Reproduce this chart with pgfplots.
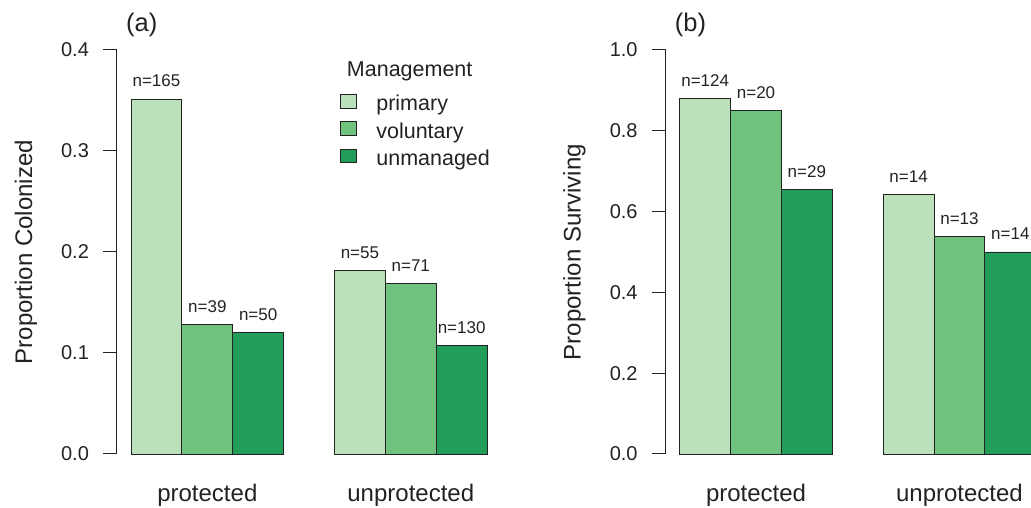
\documentclass[border=0pt]{standalone}
\usepackage{fontspec}
\setmainfont{Liberation Sans}
\usepackage{pgfplots}
\pgfplotsset{compat=1.18}
\usepackage{pgfplotstable}

\definecolor{cPrim}{HTML}{BBE1BB}
\definecolor{cVol}{HTML}{71C27E}
\definecolor{cUnm}{HTML}{239E5A}
\definecolor{ink}{HTML}{222222}

% Panel (a): proportion colonized
\pgfplotstableread{
x y n
1.5 0.3515 165
5.5 0.1818 55
}\aPrim
\pgfplotstableread{
x y n
2.5 0.1282 39
6.5 0.1690 71
}\aVol
\pgfplotstableread{
x y n
3.5 0.1200 50
7.5 0.1077 130
}\aUnm
% Panel (b): proportion surviving
\pgfplotstableread{
x y n
1.5 0.8790 124
5.5 0.6430 14
}\bPrim
\pgfplotstableread{
x y n
2.5 0.8500 20
6.5 0.5380 13
}\bVol
\pgfplotstableread{
x y n
3.5 0.6550 29
7.5 0.5000 14
}\bUnm

\pgfplotsset{
  sqlegend/.style={legend image code/.code={%
      \draw[##1, line width=0.9pt] (0pt,0.2pt) rectangle (16pt,13.5pt);
      \path[draw=none, fill=none] (0pt,0pt) rectangle (36.4pt,0.1pt);}},
  barstyle/.style={ybar, bar width=1, bar shift=0, draw=ink, line width=0.9pt, fill=#1,
    point meta=explicit symbolic,
    nodes near coords={n=\pgfplotspointmeta},
    nodes near coords style={anchor=center, yshift=18pt, inner sep=0pt,
      text=ink, font=\fontsize{17}{20}\selectfont},
    sqlegend},
  panel/.style={
    scale only axis, width=384.5pt, height=404pt,
    xmin=0.72, xmax=8.28, ymin=0,
    clip=false,
    axis y line*=left, axis x line*=bottom,
    x axis line style={draw=none},
    y axis line style={draw=ink, line width=1pt},
    xtick={2.5,6.5}, xticklabels={protected,unprotected},
    xtick style={draw=none},
    ytick style={draw=ink, line width=1pt},
    tick align=outside, major tick length=13.4pt,
    /pgf/number format/assume math mode=true,
    yticklabel={\pgfmathprintnumber[fixed,fixed zerofill,precision=1]{\tick}},
    yticklabel style={anchor=east, inner sep=0pt, xshift=-14.3pt, text=ink,
      font=\fontsize{20}{24}\selectfont},
    xticklabel style={anchor=base, inner sep=0pt, yshift=-34.5pt, text=ink,
      font=\fontsize{24}{28}\selectfont},
    ylabel style={at={(axis description cs:-0.2205,0.5)}, anchor=base, inner sep=0pt,
      text=ink, font=\fontsize{24}{28}\selectfont},
    title style={at={(axis description cs:0.024,1.0453)}, anchor=base west, inner sep=0pt,
      yshift=-6pt, text=ink, font=\fontsize{25.5}{30}\selectfont},
  },
}

\begin{document}
\begin{tikzpicture}[x=1pt,y=1pt]
\begin{axis}[panel, at={(116.8pt,54pt)}, anchor=south west,
    ymax=0.4, ytick={0,0.1,0.2,0.3,0.4},
    title={(a)}, ylabel={Proportion Colonized},
    legend cell align=left,
    legend style={at={(axis description cs:0.5787,0.891)}, anchor=north west,
      draw=none, fill=none, inner sep=0pt, row sep=0pt, column sep=0pt,
      nodes={inner sep=0pt, text height=16pt, text depth=10.5pt, text=ink,
        font=\fontsize{21.5}{26}\selectfont}},
  ]
  \addplot[barstyle=cPrim] table[x=x, y=y, meta=n] {\aPrim};
  \addlegendentry{primary}
  \addplot[barstyle=cVol] table[x=x, y=y, meta=n] {\aVol};
  \addlegendentry{voluntary}
  \addplot[barstyle=cUnm] table[x=x, y=y, meta=n] {\aUnm};
  \addlegendentry{unmanaged}
  \node[anchor=base west, inner sep=0pt, text=ink, font=\fontsize{21.5}{26}\selectfont]
    at (axis description cs:0.598,0.9356) {Management};
\end{axis}

\begin{axis}[panel, at={(665.5pt,54pt)}, anchor=south west,
    ymax=1.0, ytick={0,0.2,0.4,0.6,0.8,1.0},
    title={(b)}, ylabel={Proportion Surviving},
  ]
  \addplot[barstyle=cPrim] table[x=x, y=y, meta=n] {\bPrim};
  \addplot[barstyle=cVol] table[x=x, y=y, meta=n] {\bVol};
  \addplot[barstyle=cUnm] table[x=x, y=y, meta=n] {\bUnm};
\end{axis}
\pgfresetboundingbox
\useasboundingbox (0pt,0pt) rectangle (1031pt,508pt);
\end{tikzpicture}
\end{document}
